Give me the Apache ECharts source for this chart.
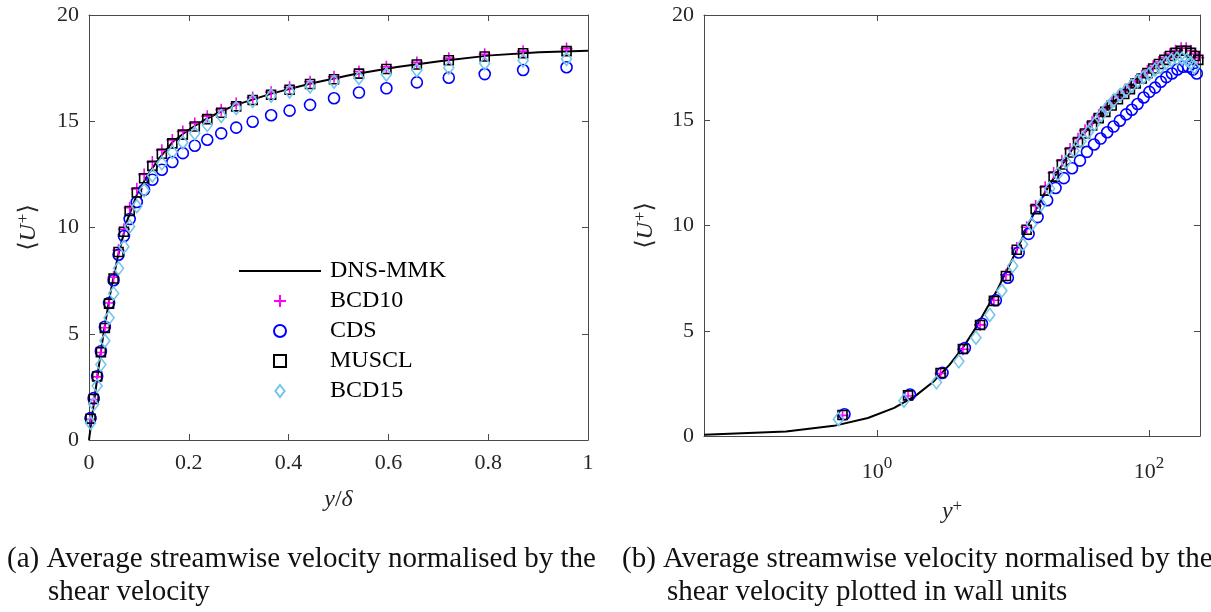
<!DOCTYPE html>
<html>
<head>
<meta charset="utf-8">
<script src="https://cdn.jsdelivr.net/npm/echarts@6/dist/echarts.min.js"></script>
<style>
  html, body { margin: 0; padding: 0; background: #fff; }
  #chart { width: 1211px; height: 612px; }
</style>
</head>
<body>
<div id="chart"></div>
<script>
// ---- LES cell-centre positions, y/delta (lower half, then the first centres past the centreline)
const gridYd = [0.0031, 0.0094, 0.0163, 0.0238, 0.0318, 0.0402, 0.0493, 0.0592, 0.0700, 0.0815,
                0.0958, 0.1105, 0.1270, 0.1460, 0.1670, 0.1880, 0.2120, 0.2370, 0.2650, 0.2950,
                0.3280, 0.3650, 0.4020, 0.4430, 0.4910, 0.5410, 0.5960, 0.6570, 0.7210, 0.7930,
                0.8700, 0.9570, 1.0430, 1.1300, 1.2070, 1.2790];

// ---- mean streamwise velocity <U+> for each convection scheme
const uBCD10 = [0.98, 1.90, 2.97, 4.12, 5.28, 6.45, 7.66, 8.93, 9.92, 10.93,
                11.82, 12.50, 13.08, 13.64, 14.12, 14.52, 14.90, 15.24, 15.54, 15.83,
                16.12, 16.37, 16.60, 16.86, 17.09, 17.34, 17.56, 17.77, 17.97, 18.15,
                18.30, 18.42, 18.42, 18.30, 18.15, 17.97];
const uCDS   = [1.03, 1.97, 3.00, 4.18, 5.33, 6.45, 7.52, 8.72, 9.60, 10.40,
                11.20, 11.78, 12.25, 12.72, 13.08, 13.50, 13.85, 14.13, 14.43, 14.70,
                14.98, 15.28, 15.50, 15.77, 16.08, 16.35, 16.55, 16.83, 17.05, 17.22,
                17.41, 17.54, 17.54, 17.41, 17.22, 17.05];
const uMUSCL = [1.00, 1.93, 2.99, 4.13, 5.27, 6.42, 7.60, 8.85, 9.80, 10.78,
                11.65, 12.32, 12.90, 13.47, 13.96, 14.37, 14.75, 15.10, 15.40, 15.70,
                16.00, 16.25, 16.48, 16.75, 16.98, 17.24, 17.46, 17.67, 17.87, 18.05,
                18.20, 18.30, 18.30, 18.20, 18.05, 17.87];
const uBCD15 = [0.80, 1.68, 2.55, 3.55, 4.67, 5.75, 6.90, 8.08, 9.10, 10.05,
                11.00, 11.75, 12.45, 13.02, 13.55, 14.00, 14.43, 14.82, 15.25, 15.62,
                15.95, 16.20, 16.40, 16.64, 16.86, 17.04, 17.20, 17.40, 17.52, 17.72,
                17.86, 17.93, 17.93, 17.86, 17.72, 17.52];

// ---- friction Reynolds number of each run (converts y/delta to wall units)
const reTauLES = { BCD10: 180, CDS: 186, MUSCL: 180, BCD15: 168 };

// ---- DNS reference profile (Moser, Kim & Mansour, Re_tau = 178.12)
const dnsYd = [0, 0.000301, 0.001204, 0.002709, 0.004815, 0.007519, 0.010823, 0.014722, 0.019215, 0.024298,
               0.029969, 0.043060, 0.058456, 0.076120, 0.096011, 0.118079, 0.142271, 0.168530, 0.196792, 0.226990,
               0.259049, 0.292893, 0.365607, 0.444430, 0.528603, 0.617317, 0.709715, 0.804910, 0.901983, 1.0];
const dnsU  = [0, 0.054, 0.214, 0.482, 0.856, 1.335, 1.918, 2.605, 3.39, 4.24,
               5.15, 6.95, 8.70, 10.30, 11.55, 12.50, 13.30, 14.05, 14.55, 15.00,
               15.40, 15.76, 16.30, 16.78, 17.20, 17.55, 17.85, 18.10, 18.25, 18.32];
const reTauDNS = 178.12;

// ---- axis ranges and tick steps
const ydRange = [0, 1], ydStep = 0.2;
const uRange = [0, 20], uStep = 5;
const yPlusRange = [0.0535, 237];

const captions = [
  ['(a) Average streamwise velocity normalised by the', 'shear velocity'],
  ['(b) Average streamwise velocity normalised by the', 'shear velocity plotted in wall units']
];

const SERIF = '"Liberation Serif", "DejaVu Serif", serif';
const INK = '#262626';
const FRAME = '#4a4a4a';

const schemes = [
  { name: 'BCD10', u: uBCD10, symbol: 'path://M6,0L6,12M0,6L12,6', size: 12, color: '#ff00ff',
    icon: 'path://M6,0L6,12M0,6L12,6' },
  { name: 'CDS',   u: uCDS,   symbol: 'circle', size: 11, color: '#0000ff',
    icon: 'circle' },
  { name: 'MUSCL', u: uMUSCL, symbol: 'rect', size: 9, color: '#000000',
    icon: 'path://M0,0L10,0L10,10L0,10Z' },
  { name: 'BCD15', u: uBCD15, symbol: 'diamond', size: [10, 13], color: '#74c5ec',
    icon: 'path://M5,0L10,6.5L5,13L0,6.5Z' }
];

const lineStyleFrame = { color: FRAME, width: 1 };
const labelBase = { color: INK, fontFamily: SERIF, fontSize: 22 };

function frameAxis(extra) {
  return Object.assign({
    axisLine: { show: true, onZero: false, lineStyle: lineStyleFrame },
    axisTick: { show: true, inside: true, length: 6, lineStyle: lineStyleFrame },
    splitLine: { show: false },
    minorTick: { show: false }
  }, extra);
}

const uName = {
  name: '{n|⟨}{i|U}{s|+}{n|⟩}',
  nameLocation: 'middle',
  nameRotate: 90,
  nameTextStyle: {
    color: INK,
    rich: {
      n: { fontFamily: SERIF, fontSize: 24, color: INK, lineHeight: 28 },
      i: { fontFamily: SERIF, fontSize: 24, fontStyle: 'italic', color: INK, lineHeight: 28 },
      s: { fontFamily: SERIF, fontSize: 17, color: INK, verticalAlign: 'top', lineHeight: 28, padding: [0, 0, 0, 1] }
    }
  }
};

const xAxes = [
  frameAxis({ gridIndex: 0, type: 'value', position: 'bottom', min: ydRange[0], max: ydRange[1], interval: ydStep,
    name: '{i|y}{n|/}{i|δ}', nameLocation: 'middle', nameGap: 48,
    nameTextStyle: { rich: {
      i: { fontFamily: SERIF, fontSize: 24, fontStyle: 'italic', color: INK },
      n: { fontFamily: SERIF, fontSize: 24, color: INK } } },
    axisLabel: Object.assign({ margin: 12 }, labelBase) }),
  frameAxis({ gridIndex: 0, type: 'value', position: 'top', min: ydRange[0], max: ydRange[1], interval: ydStep,
    axisLabel: { show: false } }),
  frameAxis({ gridIndex: 1, type: 'log', logBase: 100, position: 'bottom', min: yPlusRange[0], max: yPlusRange[1],
    name: '{i|y}{s|+}', nameLocation: 'middle', nameGap: 62,
    nameTextStyle: { rich: {
      i: { fontFamily: SERIF, fontSize: 24, fontStyle: 'italic', color: INK, lineHeight: 28 },
      s: { fontFamily: SERIF, fontSize: 17, color: INK, verticalAlign: 'top', lineHeight: 28 } } },
    axisLabel: {
      margin: 19, showMinLabel: false, showMaxLabel: false,
      formatter: v => '{b|10}{s|' + Math.round(Math.log10(v)) + '}',
      rich: {
        b: { fontFamily: SERIF, fontSize: 22, color: INK, lineHeight: 28, verticalAlign: 'bottom' },
        s: { fontFamily: SERIF, fontSize: 17, color: INK, verticalAlign: 'top', lineHeight: 28 }
      }
    } }),
  frameAxis({ gridIndex: 1, type: 'log', logBase: 100, position: 'top', min: yPlusRange[0], max: yPlusRange[1],
    axisLabel: { show: false } })
];

const yAxes = [
  frameAxis(Object.assign({ gridIndex: 0, type: 'value', position: 'left', min: uRange[0], max: uRange[1], interval: uStep,
    nameGap: 46, axisLabel: Object.assign({ margin: 10 }, labelBase) }, uName)),
  frameAxis({ gridIndex: 0, type: 'value', position: 'right', min: uRange[0], max: uRange[1], interval: uStep,
    axisLabel: { show: false } }),
  frameAxis(Object.assign({ gridIndex: 1, type: 'value', position: 'left', min: uRange[0], max: uRange[1], interval: uStep,
    nameGap: 44, axisLabel: Object.assign({ margin: 10 }, labelBase) }, uName)),
  frameAxis({ gridIndex: 1, type: 'value', position: 'right', min: uRange[0], max: uRange[1], interval: uStep,
    axisLabel: { show: false } })
];

const series = [];
// panel (a): outer units; panel (b): wall units on a log axis
[0, 1].forEach(panel => {
  const xIdx = panel === 0 ? 0 : 2;
  const yIdx = panel === 0 ? 0 : 2;
  const dnsData = dnsYd.map((y, i) => [panel === 0 ? y : y * reTauDNS, dnsU[i]])
                       .filter(p => panel === 0 || p[0] > 0);
  series.push({
    name: 'DNS-MMK', type: 'line', xAxisIndex: xIdx, yAxisIndex: yIdx,
    data: dnsData, showSymbol: false, symbol: 'none', clip: true,
    lineStyle: { color: '#000', width: 2 }, itemStyle: { color: '#000' },
    z: 2
  });
  schemes.forEach((s, k) => {
    const rt = reTauLES[s.name];
    series.push({
      name: s.name, type: 'scatter', xAxisIndex: xIdx, yAxisIndex: yIdx,
      data: gridYd.map((y, i) => [panel === 0 ? y : y * rt, s.u[i]]),
      symbol: s.symbol, symbolSize: s.size, clip: true,
      itemStyle: { color: 'rgba(0,0,0,0)', borderColor: s.color, borderWidth: 1.6, opacity: 1 },
      emphasis: { disabled: true },
      z: 3 + k
    });
  });
});

const graphics = [];
[[7, 48], [622, 667]].forEach((xs, p) => {
  graphics.push({ type: 'text', x: xs[0], y: 559,
    style: { text: captions[p][0], font: '29px ' + SERIF, fill: '#111', verticalAlign: 'middle', textVerticalAlign: 'middle' } });
  graphics.push({ type: 'text', x: xs[1], y: 592,
    style: { text: captions[p][1], font: '29px ' + SERIF, fill: '#111', verticalAlign: 'middle', textVerticalAlign: 'middle' } });
});

const chart = echarts.init(document.getElementById('chart'), null, { renderer: 'canvas' });
chart.setOption({
  animation: false,
  backgroundColor: '#fff',
  grid: [
    { left: 89, top: 15, width: 499, height: 425, outerBoundsMode: 'none', containLabel: false },
    { left: 704, top: 15, width: 496, height: 421, outerBoundsMode: 'none', containLabel: false }
  ],
  xAxis: xAxes,
  yAxis: yAxes,
  legend: {
    show: true, orient: 'vertical', left: 234, top: 254, padding: 5,
    itemWidth: 82, itemHeight: 12, itemGap: 6, selectedMode: false,
    textStyle: { fontFamily: SERIF, fontSize: 24, color: '#000', padding: [0, 0, 0, 4] },
    data: [{ name: 'DNS-MMK', icon: 'path://M0,0L100,0L100,2.4L0,2.4Z', itemStyle: { color: '#000', borderWidth: 0 } }]
      .concat(schemes.map(s => ({ name: s.name, icon: s.icon })))
  },
  tooltip: { show: false },
  series: series,
  graphic: graphics
});
</script>
</body>
</html>
